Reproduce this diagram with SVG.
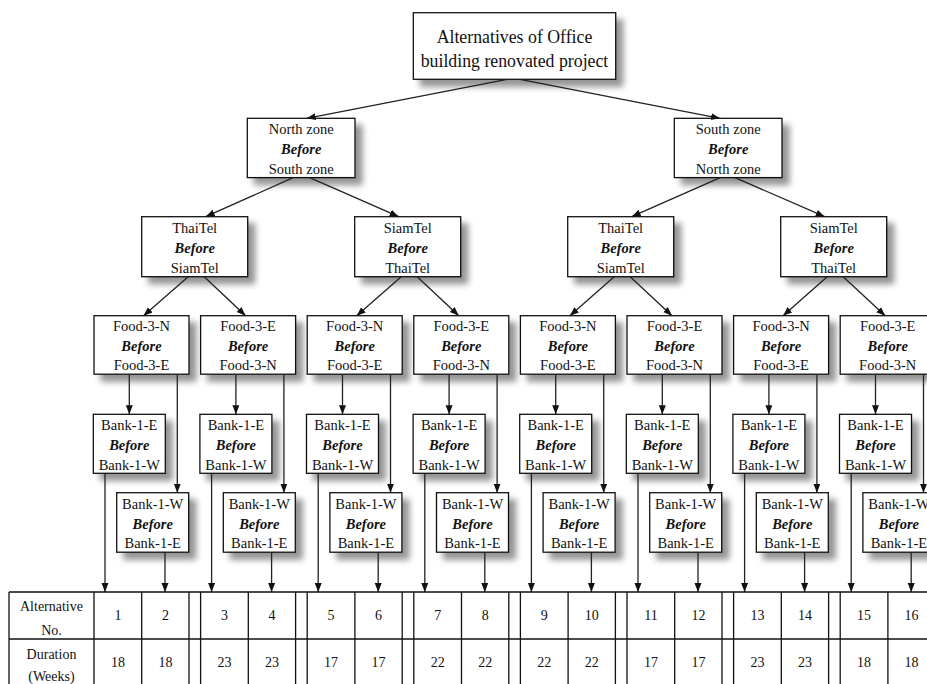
<svg xmlns="http://www.w3.org/2000/svg" width="927" height="684" viewBox="0 0 927 684">
<style>
.box{fill:#fff;stroke:#111;stroke-width:1.3}
.t{font-family:"Liberation Serif","Times New Roman",serif;font-size:14.5px;text-anchor:middle;fill:#111}
.r{font-size:17.8px}
.b{font-weight:bold;font-style:italic}
.ln{stroke:#222;stroke-width:1.3;fill:none;marker-end:url(#ah)}
.g{stroke:#111;stroke-width:1.3;fill:none}
.n{font-family:"Liberation Serif","Times New Roman",serif;font-size:14px;text-anchor:middle;fill:#111}
</style>
<defs>
<marker id="ah" markerUnits="userSpaceOnUse" markerWidth="10" markerHeight="8" refX="9" refY="3.5" orient="auto">
<path d="M0,0 L9,3.5 L0,7 Z" fill="#111"/>
</marker>
<filter id="sh" x="-10%" y="-10%" width="135%" height="145%">
<feGaussianBlur in="SourceAlpha" stdDeviation="3"/>
<feOffset dx="7" dy="7"/>
<feComponentTransfer><feFuncA type="linear" slope="0.42"/></feComponentTransfer>
<feMerge><feMergeNode/><feMergeNode in="SourceGraphic"/></feMerge>
</filter>
</defs>
<rect width="927" height="684" fill="#fff"/>

<g id="root">
<rect class="box" filter="url(#sh)" x="413.3" y="12.7" width="202.4" height="66.6"/>
<text class="t r" x="514.5" y="43">Alternatives of Office</text>
<text class="t r" x="514.5" y="66.5">building renovated project</text>
</g>

<g id="north">
<rect class="box" filter="url(#sh)" x="247.3" y="118.3" width="107.7" height="59.3"/>
<text class="t" x="301.2" y="134">North zone</text>
<text class="t b" x="301.2" y="154">Before</text>
<text class="t" x="301.2" y="174">South zone</text>
</g>
<g id="south">
<rect class="box" filter="url(#sh)" x="674.3" y="118.3" width="107.7" height="59.3"/>
<text class="t" x="728.2" y="134">South zone</text>
<text class="t b" x="728.2" y="154">Before</text>
<text class="t" x="728.2" y="174">North zone</text>
</g>

<g id="l2-1">
<rect class="box" filter="url(#sh)" x="141.7" y="216.7" width="106" height="60"/>
<text class="t" x="194.7" y="233">ThaiTel</text>
<text class="t b" x="194.7" y="253">Before</text>
<text class="t" x="194.7" y="272.5">SiamTel</text>
</g>
<g id="l2-2">
<rect class="box" filter="url(#sh)" x="354.7" y="216.7" width="106" height="60"/>
<text class="t" x="407.7" y="233">SiamTel</text>
<text class="t b" x="407.7" y="253">Before</text>
<text class="t" x="407.7" y="272.5">ThaiTel</text>
</g>
<g id="l2-3">
<rect class="box" filter="url(#sh)" x="567.7" y="216.7" width="106" height="60"/>
<text class="t" x="620.7" y="233">ThaiTel</text>
<text class="t b" x="620.7" y="253">Before</text>
<text class="t" x="620.7" y="272.5">SiamTel</text>
</g>
<g id="l2-4">
<rect class="box" filter="url(#sh)" x="780.7" y="216.7" width="106" height="60"/>
<text class="t" x="833.7" y="233">SiamTel</text>
<text class="t b" x="833.7" y="253">Before</text>
<text class="t" x="833.7" y="272.5">ThaiTel</text>
</g>

<g id="food-1"><rect class="box" filter="url(#sh)" x="94" y="315.7" width="95" height="58.5"/>
<text class="t" x="141.5" y="331">Food-3-N</text><text class="t b" x="141.5" y="350.5">Before</text><text class="t" x="141.5" y="370">Food-3-E</text></g>
<g id="food-2"><rect class="box" filter="url(#sh)" x="200.6" y="315.7" width="95" height="58.5"/>
<text class="t" x="248.1" y="331">Food-3-E</text><text class="t b" x="248.1" y="350.5">Before</text><text class="t" x="248.1" y="370">Food-3-N</text></g>
<g id="food-3"><rect class="box" filter="url(#sh)" x="307.2" y="315.7" width="95" height="58.5"/>
<text class="t" x="354.7" y="331">Food-3-N</text><text class="t b" x="354.7" y="350.5">Before</text><text class="t" x="354.7" y="370">Food-3-E</text></g>
<g id="food-4"><rect class="box" filter="url(#sh)" x="413.8" y="315.7" width="95" height="58.5"/>
<text class="t" x="461.3" y="331">Food-3-E</text><text class="t b" x="461.3" y="350.5">Before</text><text class="t" x="461.3" y="370">Food-3-N</text></g>
<g id="food-5"><rect class="box" filter="url(#sh)" x="520.4" y="315.7" width="95" height="58.5"/>
<text class="t" x="567.9" y="331">Food-3-N</text><text class="t b" x="567.9" y="350.5">Before</text><text class="t" x="567.9" y="370">Food-3-E</text></g>
<g id="food-6"><rect class="box" filter="url(#sh)" x="627" y="315.7" width="95" height="58.5"/>
<text class="t" x="674.5" y="331">Food-3-E</text><text class="t b" x="674.5" y="350.5">Before</text><text class="t" x="674.5" y="370">Food-3-N</text></g>
<g id="food-7"><rect class="box" filter="url(#sh)" x="733.6" y="315.7" width="95" height="58.5"/>
<text class="t" x="781.1" y="331">Food-3-N</text><text class="t b" x="781.1" y="350.5">Before</text><text class="t" x="781.1" y="370">Food-3-E</text></g>
<g id="food-8"><rect class="box" filter="url(#sh)" x="840.2" y="315.7" width="95" height="58.5"/>
<text class="t" x="887.7" y="331">Food-3-E</text><text class="t b" x="887.7" y="350.5">Before</text><text class="t" x="887.7" y="370">Food-3-N</text></g>

<g id="bankA-1"><rect class="box" filter="url(#sh)" x="93.3" y="414.3" width="72" height="59"/>
<text class="t" x="129.3" y="430">Bank-1-E</text><text class="t b" x="129.3" y="450">Before</text><text class="t" x="129.3" y="470">Bank-1-W</text></g>
<g id="bankA-2"><rect class="box" filter="url(#sh)" x="199.9" y="414.3" width="72" height="59"/>
<text class="t" x="235.9" y="430">Bank-1-E</text><text class="t b" x="235.9" y="450">Before</text><text class="t" x="235.9" y="470">Bank-1-W</text></g>
<g id="bankA-3"><rect class="box" filter="url(#sh)" x="306.5" y="414.3" width="72" height="59"/>
<text class="t" x="342.5" y="430">Bank-1-E</text><text class="t b" x="342.5" y="450">Before</text><text class="t" x="342.5" y="470">Bank-1-W</text></g>
<g id="bankA-4"><rect class="box" filter="url(#sh)" x="413.1" y="414.3" width="72" height="59"/>
<text class="t" x="449.1" y="430">Bank-1-E</text><text class="t b" x="449.1" y="450">Before</text><text class="t" x="449.1" y="470">Bank-1-W</text></g>
<g id="bankA-5"><rect class="box" filter="url(#sh)" x="519.7" y="414.3" width="72" height="59"/>
<text class="t" x="555.7" y="430">Bank-1-E</text><text class="t b" x="555.7" y="450">Before</text><text class="t" x="555.7" y="470">Bank-1-W</text></g>
<g id="bankA-6"><rect class="box" filter="url(#sh)" x="626.3" y="414.3" width="72" height="59"/>
<text class="t" x="662.3" y="430">Bank-1-E</text><text class="t b" x="662.3" y="450">Before</text><text class="t" x="662.3" y="470">Bank-1-W</text></g>
<g id="bankA-7"><rect class="box" filter="url(#sh)" x="732.9" y="414.3" width="72" height="59"/>
<text class="t" x="768.9" y="430">Bank-1-E</text><text class="t b" x="768.9" y="450">Before</text><text class="t" x="768.9" y="470">Bank-1-W</text></g>
<g id="bankA-8"><rect class="box" filter="url(#sh)" x="839.5" y="414.3" width="72" height="59"/>
<text class="t" x="875.5" y="430">Bank-1-E</text><text class="t b" x="875.5" y="450">Before</text><text class="t" x="875.5" y="470">Bank-1-W</text></g>

<g id="bankB-1"><rect class="box" filter="url(#sh)" x="116.7" y="492.7" width="72" height="59.5"/>
<text class="t" x="152.7" y="508.5">Bank-1-W</text><text class="t b" x="152.7" y="528.5">Before</text><text class="t" x="152.7" y="548">Bank-1-E</text></g>
<g id="bankB-2"><rect class="box" filter="url(#sh)" x="223.3" y="492.7" width="72" height="59.5"/>
<text class="t" x="259.3" y="508.5">Bank-1-W</text><text class="t b" x="259.3" y="528.5">Before</text><text class="t" x="259.3" y="548">Bank-1-E</text></g>
<g id="bankB-3"><rect class="box" filter="url(#sh)" x="329.9" y="492.7" width="72" height="59.5"/>
<text class="t" x="365.9" y="508.5">Bank-1-W</text><text class="t b" x="365.9" y="528.5">Before</text><text class="t" x="365.9" y="548">Bank-1-E</text></g>
<g id="bankB-4"><rect class="box" filter="url(#sh)" x="436.5" y="492.7" width="72" height="59.5"/>
<text class="t" x="472.5" y="508.5">Bank-1-W</text><text class="t b" x="472.5" y="528.5">Before</text><text class="t" x="472.5" y="548">Bank-1-E</text></g>
<g id="bankB-5"><rect class="box" filter="url(#sh)" x="543.1" y="492.7" width="72" height="59.5"/>
<text class="t" x="579.1" y="508.5">Bank-1-W</text><text class="t b" x="579.1" y="528.5">Before</text><text class="t" x="579.1" y="548">Bank-1-E</text></g>
<g id="bankB-6"><rect class="box" filter="url(#sh)" x="649.7" y="492.7" width="72" height="59.5"/>
<text class="t" x="685.7" y="508.5">Bank-1-W</text><text class="t b" x="685.7" y="528.5">Before</text><text class="t" x="685.7" y="548">Bank-1-E</text></g>
<g id="bankB-7"><rect class="box" filter="url(#sh)" x="756.3" y="492.7" width="72" height="59.5"/>
<text class="t" x="792.3" y="508.5">Bank-1-W</text><text class="t b" x="792.3" y="528.5">Before</text><text class="t" x="792.3" y="548">Bank-1-E</text></g>
<g id="bankB-8"><rect class="box" filter="url(#sh)" x="862.9" y="492.7" width="72" height="59.5"/>
<text class="t" x="898.9" y="508.5">Bank-1-W</text><text class="t b" x="898.9" y="528.5">Before</text><text class="t" x="898.9" y="548">Bank-1-E</text></g>

<g id="connectors">
<line class="ln" x1="507" y1="79.3" x2="306.7" y2="118.3"/>
<line class="ln" x1="520" y1="79.3" x2="720" y2="118.3"/>
<line class="ln" x1="293.2" y1="177.6" x2="205.7" y2="216.7"/>
<line class="ln" x1="309.7" y1="177.6" x2="398.7" y2="216.7"/>
<line class="ln" x1="720.2" y1="177.6" x2="631.7" y2="216.7"/>
<line class="ln" x1="735" y1="177.6" x2="824.7" y2="216.7"/>
<line class="ln" x1="188.2" y1="276.7" x2="143.5" y2="315.7"/>
<line class="ln" x1="204.2" y1="276.7" x2="245.6" y2="315.7"/>
<line class="ln" x1="401.2" y1="276.7" x2="356.7" y2="315.7"/>
<line class="ln" x1="417.2" y1="276.7" x2="458.8" y2="315.7"/>
<line class="ln" x1="614.2" y1="276.7" x2="569.9" y2="315.7"/>
<line class="ln" x1="630.2" y1="276.7" x2="672" y2="315.7"/>
<line class="ln" x1="827.2" y1="276.7" x2="783.1" y2="315.7"/>
<line class="ln" x1="843.2" y1="276.7" x2="885.2" y2="315.7"/>
<path class="ln" d="M129.3,374.2V414.3"/><path class="ln" d="M235.9,374.2V414.3"/><path class="ln" d="M342.5,374.2V414.3"/><path class="ln" d="M449.1,374.2V414.3"/>
<path class="ln" d="M555.7,374.2V414.3"/><path class="ln" d="M662.3,374.2V414.3"/><path class="ln" d="M768.9,374.2V414.3"/><path class="ln" d="M875.5,374.2V414.3"/>
<path class="ln" d="M177.3,374.2V492.7"/><path class="ln" d="M283.9,374.2V492.7"/><path class="ln" d="M390.5,374.2V492.7"/><path class="ln" d="M497.1,374.2V492.7"/>
<path class="ln" d="M603.7,374.2V492.7"/><path class="ln" d="M710.3,374.2V492.7"/><path class="ln" d="M816.9,374.2V492.7"/><path class="ln" d="M923.5,374.2V492.7"/>
<path class="ln" d="M105,473.3V592"/><path class="ln" d="M211.6,473.3V592"/><path class="ln" d="M318.2,473.3V592"/><path class="ln" d="M424.8,473.3V592"/>
<path class="ln" d="M531.4,473.3V592"/><path class="ln" d="M638,473.3V592"/><path class="ln" d="M744.6,473.3V592"/><path class="ln" d="M851.2,473.3V592"/>
<path class="ln" d="M165,552.2V592"/><path class="ln" d="M271.6,552.2V592"/><path class="ln" d="M378.2,552.2V592"/><path class="ln" d="M484.8,552.2V592"/>
<path class="ln" d="M591.4,552.2V592"/><path class="ln" d="M698,552.2V592"/><path class="ln" d="M804.6,552.2V592"/><path class="ln" d="M911.2,552.2V592"/>
</g>

<g id="table">
<path class="g" d="M9,592H927M9,639H927M9,592V684M94,592V684"/>
<path class="g" d="M141.7,592V684M189,592V684M200.6,592V684M248.3,592V684M295.6,592V684M307.2,592V684M354.9,592V684M402.2,592V684M413.8,592V684M461.5,592V684M508.8,592V684M520.4,592V684M568.1,592V684M615.4,592V684M627,592V684M674.7,592V684M722,592V684M733.6,592V684M781.3,592V684M828.6,592V684M840.2,592V684M887.9,592V684"/>
<text class="n" x="51.5" y="610.5">Alternative</text>
<text class="n" x="51.5" y="635">No.</text>
<text class="n" x="51.5" y="659">Duration</text>
<text class="n" x="51.5" y="681">(Weeks)</text>
<text class="n" x="117.9" y="620">1</text><text class="n" x="165.4" y="620">2</text>
<text class="n" x="224.5" y="620">3</text><text class="n" x="272" y="620">4</text>
<text class="n" x="331.1" y="620">5</text><text class="n" x="378.6" y="620">6</text>
<text class="n" x="437.7" y="620">7</text><text class="n" x="485.2" y="620">8</text>
<text class="n" x="544.3" y="620">9</text><text class="n" x="591.8" y="620">10</text>
<text class="n" x="650.9" y="620">11</text><text class="n" x="698.4" y="620">12</text>
<text class="n" x="757.5" y="620">13</text><text class="n" x="805" y="620">14</text>
<text class="n" x="864.1" y="620">15</text><text class="n" x="911.6" y="620">16</text>
<text class="n" x="117.9" y="667">18</text><text class="n" x="165.4" y="667">18</text>
<text class="n" x="224.5" y="667">23</text><text class="n" x="272" y="667">23</text>
<text class="n" x="331.1" y="667">17</text><text class="n" x="378.6" y="667">17</text>
<text class="n" x="437.7" y="667">22</text><text class="n" x="485.2" y="667">22</text>
<text class="n" x="544.3" y="667">22</text><text class="n" x="591.8" y="667">22</text>
<text class="n" x="650.9" y="667">17</text><text class="n" x="698.4" y="667">17</text>
<text class="n" x="757.5" y="667">23</text><text class="n" x="805" y="667">23</text>
<text class="n" x="864.1" y="667">18</text><text class="n" x="911.6" y="667">18</text>
</g>
</svg>
